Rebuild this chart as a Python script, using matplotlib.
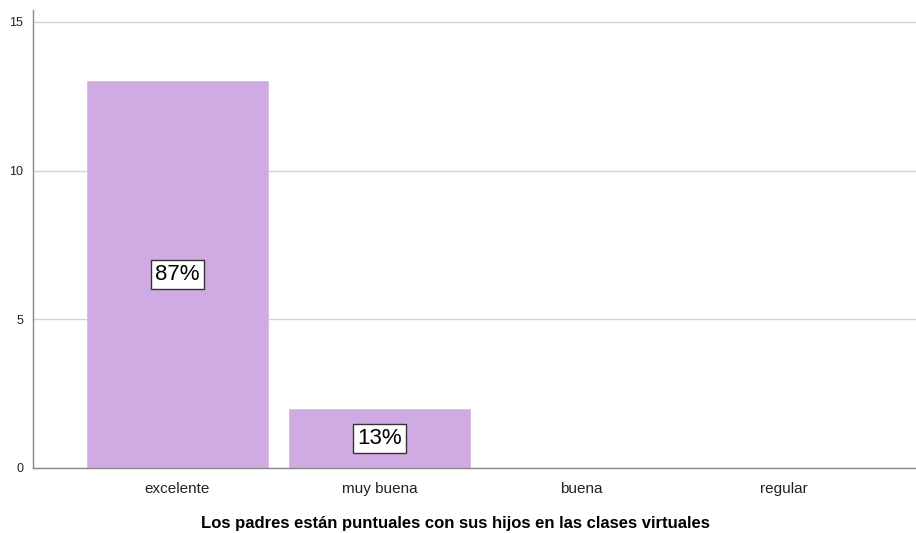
import matplotlib
matplotlib.use("Agg")
import matplotlib.pyplot as plt

categories = ["excelente", "muy buena", "buena", "regular"]
counts = [13, 2, 0, 0]
pct_labels = ["87%", "13%", "", ""]
yticks = [0, 5, 10, 15]
xlabel = "Los padres están puntuales con sus hijos en las clases virtuales"

plt.rcParams['font.family'] = ['Liberation Sans', 'DejaVu Sans']

fig = plt.figure(figsize=(9.16, 5.33), dpi=100)
ax = fig.add_axes([33/916, 1-468/533, 1-33/916, (468-10)/533])

x = list(range(len(categories)))
ax.bar(x, counts, width=0.896, color="#d0aae3", edgecolor="#d8b8e8", linewidth=0.6, zorder=2)
for xi, c, lab in zip(x, counts, pct_labels):
    if lab:
        ax.text(xi, c/2, lab, ha="center", va="center", fontsize=16, color="black", zorder=3,
                bbox=dict(boxstyle="square,pad=0.18", facecolor="white", edgecolor="#333333", linewidth=1))

ax.set_xlim(-0.715, 3.656)
ax.set_ylim(0, 15.4)
ax.set_yticks(yticks)
ax.set_yticklabels([str(t) for t in yticks], fontsize=9, color="#222222")
ax.set_xticks(x)
ax.set_xticklabels(categories, fontsize=11, color="#222222")
ax.tick_params(axis="x", length=0, pad=10)
ax.tick_params(axis="y", length=0, pad=7)
ax.yaxis.grid(True, color="#d4d4d4", linewidth=1, zorder=0)
ax.set_axisbelow(True)
for s in ["top", "right"]:
    ax.spines[s].set_visible(False)
ax.spines["left"].set_color("#888888")
ax.spines["bottom"].set_color("#888888")
ax.spines["left"].set_linewidth(1)
ax.spines["bottom"].set_linewidth(1)
ax.set_xlabel(xlabel, fontsize=12, fontweight="bold")
ax.xaxis.set_label_coords(0.478, -0.122)
ax.xaxis.label.set_va("center")

fig.savefig("out.png", dpi=100)
